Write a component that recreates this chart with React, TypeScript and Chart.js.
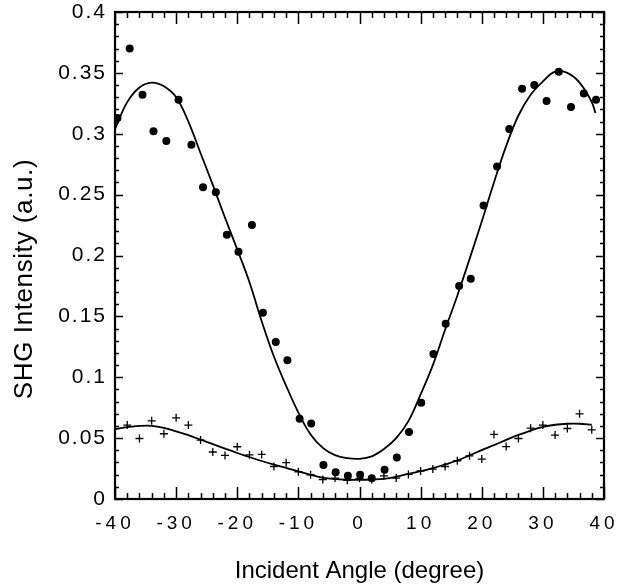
import React, { useEffect, useRef } from 'react';
import { Chart, registerables } from 'chart.js';

Chart.register(...registerables);

// ---- Data ----
const xTickLabels = ['-40', '-30', '-20', '-10', '0', '10', '20', '30', '40'];
const yTickLabels = ['0', '0.05', '0.1', '0.15', '0.2', '0.25', '0.3', '0.35', '0.4'];

const circleX = [-39.6, -37.6, -35.5, -33.7, -31.6, -29.6, -27.5, -25.6, -23.5, -21.7, -19.8, -17.6, -15.8, -13.7, -11.8, -9.8, -7.9, -5.9, -3.9, -1.9, 0.1, 2.0, 4.1, 6.1, 8.1, 10.1, 12.1, 14.1, 16.3, 18.2, 20.3, 22.5, 24.5, 26.6, 28.6, 30.6, 32.6, 34.6, 36.7, 38.7];
const circleY = [0.313, 0.370, 0.332, 0.302, 0.294, 0.328, 0.291, 0.256, 0.252, 0.217, 0.203, 0.225, 0.153, 0.129, 0.114, 0.066, 0.062, 0.028, 0.022, 0.019, 0.020, 0.017, 0.024, 0.034, 0.055, 0.079, 0.119, 0.144, 0.175, 0.181, 0.241, 0.273, 0.304, 0.337, 0.340, 0.327, 0.351, 0.322, 0.333, 0.328];

const plusX = [-38, -36, -34, -32, -30, -28, -26, -24, -22, -20, -18, -16, -14, -12, -10, -8, -6, -4, -2, 0, 2, 4, 6, 8, 10, 12, 14, 16, 18, 20, 22, 24, 26, 28, 30, 32, 34, 36, 38];
const plusY = [0.0607, 0.0497, 0.0642, 0.0536, 0.0667, 0.0607, 0.0484, 0.0386, 0.0358, 0.0429, 0.0363, 0.0366, 0.0267, 0.0298, 0.0224, 0.0199, 0.0160, 0.0172, 0.0154, 0.0170, 0.0160, 0.0190, 0.0172, 0.0202, 0.0230, 0.0246, 0.0267, 0.0314, 0.0355, 0.0328, 0.0530, 0.0431, 0.0497, 0.0582, 0.0607, 0.0525, 0.0579, 0.0700, 0.0568];

const fitAX = [-40, -38, -36, -34, -32, -30, -28, -26, -24, -22, -20, -18, -16, -14, -12, -10, -8, -6, -4, -2, 0, 2, 4, 6, 8, 10, 12, 14, 16, 18, 20, 22, 24, 26, 28, 30, 32, 34, 36, 38, 38.6];
const fitAY = [0.304, 0.326, 0.338, 0.342, 0.339, 0.330, 0.310, 0.284, 0.258, 0.231, 0.205, 0.178, 0.146, 0.117, 0.093, 0.071, 0.053, 0.042, 0.036, 0.0335, 0.033, 0.035, 0.041, 0.050, 0.064, 0.086, 0.110, 0.139, 0.167, 0.197, 0.228, 0.260, 0.290, 0.315, 0.332, 0.343, 0.351, 0.350, 0.342, 0.326, 0.317];

const fitBX = [-40, -38, -36, -34, -32, -30, -28, -26, -24, -22, -20, -18, -16, -14, -12, -10, -8, -6, -4, -2, 0, 2, 4, 6, 8, 10, 12, 14, 16, 18, 20, 22, 24, 26, 28, 30, 32, 34, 36, 38];
const fitBY = [0.0574, 0.0590, 0.0600, 0.0601, 0.0585, 0.0556, 0.0525, 0.0487, 0.0451, 0.0414, 0.0378, 0.0345, 0.0312, 0.0282, 0.0256, 0.0227, 0.0199, 0.0175, 0.0163, 0.0158, 0.0157, 0.0160, 0.0166, 0.0183, 0.0207, 0.0228, 0.0254, 0.0284, 0.0316, 0.0358, 0.0402, 0.0442, 0.0486, 0.0526, 0.0562, 0.0592, 0.0610, 0.0618, 0.0618, 0.0610];

const xTitle = 'Incident Angle (degree)';
const yTitle = 'SHG Intensity (a.u.)';

const FONT = '"Liberation Sans", Arial, Helvetica, sans-serif';

const toPoints = (xs: number[], ys: number[]) => xs.map((x, i) => ({ x, y: ys[i] }));

const framePlugin = {
  id: 'framePlugin',
  beforeDraw(chart: any) {
    const ctx = chart.ctx;
    const patch = (scale: any, spacing: string) => {
      if (!scale || scale.__patched) return;
      const orig = scale.drawLabels.bind(scale);
      scale.drawLabels = (area: any) => {
        ctx.save();
        (ctx as any).letterSpacing = spacing;
        orig(area);
        ctx.restore();
      };
      scale.__patched = true;
    };
    patch(chart.scales.x, '4px');
    patch(chart.scales.y, '2px');
  },
  afterDraw(chart: any) {
    const ctx = chart.ctx;
    const a = chart.chartArea;
    const xs = chart.scales.x;
    const ys = chart.scales.y;
    ctx.save();
    ctx.strokeStyle = '#000';
    ctx.lineWidth = 1.5;
    ctx.beginPath();
    for (let v = -40; v <= 40; v += 2) {
      const px = Math.round(xs.getPixelForValue(v)) + 0.5;
      const len = v % 10 === 0 ? 12 : 6;
      ctx.moveTo(px, a.bottom);
      ctx.lineTo(px, a.bottom - len);
      ctx.moveTo(px, a.top);
      ctx.lineTo(px, a.top + len);
    }
    for (let i = 0; i <= 40; i++) {
      const py = Math.round(ys.getPixelForValue(i * 0.01)) + 0.5;
      const len = i % 5 === 0 ? 8 : 4;
      ctx.moveTo(a.left, py);
      ctx.lineTo(a.left + len, py);
      ctx.moveTo(a.right, py);
      ctx.lineTo(a.right - len, py);
    }
    ctx.stroke();
    ctx.lineWidth = 2.2;
    ctx.strokeRect(a.left, a.top, a.right - a.left, a.bottom - a.top);

    // y-axis title
    ctx.translate(25, 279);
    ctx.rotate(-Math.PI / 2);
    ctx.fillStyle = '#000';
    ctx.font = `26px ${FONT}`;
    (ctx as any).letterSpacing = '0.6px';
    ctx.textAlign = 'center';
    ctx.textBaseline = 'middle';
    ctx.fillText(yTitle, 0, 0);
    ctx.restore();
  },
};

export default function App() {
  const canvasRef = useRef<HTMLCanvasElement | null>(null);

  useEffect(() => {
    if (!canvasRef.current) return;
    const chart = new Chart(canvasRef.current, {
      type: 'scatter',
      data: {
        datasets: [
          {
            label: 'fitA',
            data: toPoints(fitAX, fitAY),
            showLine: true,
            borderColor: '#000',
            borderWidth: 1.8,
            pointRadius: 0,
            tension: 0.4,
          },
          {
            label: 'fitB',
            data: toPoints(fitBX, fitBY),
            showLine: true,
            borderColor: '#000',
            borderWidth: 1.8,
            pointRadius: 0,
            tension: 0.4,
          },
          {
            label: 'circles',
            data: toPoints(circleX, circleY),
            pointStyle: 'circle',
            pointRadius: 4,
            backgroundColor: '#000',
            borderColor: '#000',
            borderWidth: 0,
          },
          {
            label: 'plus',
            data: toPoints(plusX, plusY),
            pointStyle: 'cross',
            pointRadius: 4,
            borderColor: '#000',
            backgroundColor: '#000',
            borderWidth: 1.3,
          },
        ],
      } as any,
      options: {
        animation: false,
        responsive: true,
        maintainAspectRatio: false,
        layout: { padding: { left: 0, right: 23, top: 12, bottom: 0 } },
        plugins: {
          legend: { display: false },
          tooltip: { enabled: false },
        },
        scales: {
          x: {
            type: 'linear',
            min: -40,
            max: 40,
            grid: { display: false, drawTicks: false },
            border: { display: false },
            ticks: {
              stepSize: 10,
              padding: 13,
              color: '#000',
              font: { family: FONT, size: 19 },
              maxRotation: 0,
              callback: (_v: any, i: number) => xTickLabels[i],
            },
            title: {
              display: true,
              text: xTitle,
              color: '#000',
              font: { family: FONT, size: 24 },
              padding: { top: 0, bottom: 0 },
            },
            afterFit: (s: any) => {
              s.height = 87;
              s.paddingLeft = 0;
              s.paddingRight = 0;
            },
          },
          y: {
            type: 'linear',
            min: 0,
            max: 0.4,
            grid: { display: false, drawTicks: false },
            border: { display: false },
            ticks: {
              stepSize: 0.05,
              padding: 8,
              color: '#000',
              font: { family: FONT, size: 21 },
              callback: (_v: any, i: number) => yTickLabels[i],
            },
            afterFit: (s: any) => {
              s.width = 115;
              s.paddingTop = 0;
              s.paddingBottom = 0;
            },
          },
        },
      } as any,
      plugins: [framePlugin],
    });
    return () => chart.destroy();
  }, []);

  return (
    <div style={{ position: 'absolute', left: 0, top: 0, width: 627, height: 586, background: '#fff' }}>
      <canvas ref={canvasRef} style={{ display: 'block' }} />
    </div>
  );
}
